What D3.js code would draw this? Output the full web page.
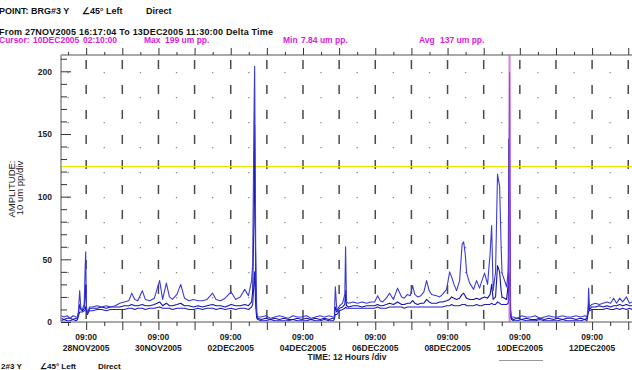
<!DOCTYPE html>
<html><head><meta charset="utf-8">
<script src="https://cdn.jsdelivr.net/npm/d3@7"></script>
<style>body{margin:0;background:#fff;} svg{display:block;font-family:"Liberation Sans",Arial,sans-serif;}</style>
</head><body><svg id="c" width="632" height="370"></svg>
<script>
// ---- data ----
const startTime = "2005-11-27T16:17:04";
const endTime = "2005-12-13T11:30:00";
const cursorTime = "2005-12-10T02:10:00";
const alarmLevel = 124;
const yMajorTicks = [0, 50, 100, 150, 200];
const xLabelTimes = ["2005-11-28T09:00:00","2005-11-30T09:00:00","2005-12-02T09:00:00","2005-12-04T09:00:00",
                     "2005-12-06T09:00:00","2005-12-08T09:00:00","2005-12-10T09:00:00","2005-12-12T09:00:00"];
const xLabelDates = ["28NOV2005","30NOV2005","02DEC2005","04DEC2005","06DEC2005","08DEC2005","10DEC2005","12DEC2005"];
const xLabelClock = "09:00";

// hours since start time
const hours = [
  0,2,4,6,8,10,11,
  11.6,12.4,13.2,14.2,15.4,16.0,16.4,16.9,17.6,19,
  21,24,27,30,33,36,39,42,45, 47,49,51,54,56,59,62, 65.5,67.5,70,72,74,77,79.5,82,85,
  88,91,94,97,100.7,103,106,109,113, 116,119,122,124.5,126.6, 127.3,128.1,128.6,129.3,130,130.6,
  133,136,139,142,145,148,151,154,157,160,163,166,169,172,175,178,180.5,
  181.5,182.2,183.2,185,187,188.5,189.0,189.6,191,194, 197,200,203,206,208.3,210.3,212,213.6,216,218.2,
  220.8,223.5,226.2,228,230.1,232,233.5,235,236.8,239, 241,242.8,244.5,246.1,249.4,
  251.5,253.4,256.1,258.1,259.4,261,262.7,264.7,266.4,267.4, 268.4,269.4,271.4,274,276,278,279.3,281.3,283.3,285,
  286,287,288.6,289.9,291.3,292.3,292.9,294.6,295.9,297.0, 297.4,297.9,298.6,299.2,
  300.5,303,306,309,312,315,318,321,324,327,330,333,336,339,342,345,348,349.3,
  350.0,350.4,351,352.5,355,357.5,360,362.5,365,367,369,371,373,375.6,377.5,379.2
];
const seriesA = [
  5,4,5,3,5,4,4,
  9,25,11,10,14,42,56,12,7,12,
  12,13,12,13,12,13,15,16,17, 23,18,17,25,18,17,19, 33,18,31,20,18,22,30,19,17,
  18,17,17,18,23,18,17,19,24, 18,20,26,21,33, 47,157,204,60,8,4,
  4,5,3,4,5,4,3,5,4,4,5,3,4,5,4,5,4,
  4,28,9,13,15,22,60,16,15,16, 15,16,15,16,16,21,17,16,19,23,
  18,27,20,19,22,21,29,22,20,21, 24,33,25,22,21,
  20,22,26,40,36,30,25,33,62,64, 55,39,31,26,33,27,32,39,30,55,
  77,25,40,118,108,60,39,33,28,40, 60,199,10,4,
  4,3,5,4,4,5,3,4,5,4,4,5,4,4,5,4,5,4,
  10,27,12,14,15,14,15,16,15,19,15,19,16,20,15,16
];
const seriesB = [
  3,2,3,3,2,3,3,
  7,14,10,9,11,22,30,9,6,11,
  11,11,12,11,12,12,12,13,13, 14,13,13,14,13,13,14, 16,13,15,13,13,14,15,13,13,
  12,13,12,13,14,13,13,12,14, 13,13,14,13,16, 25,80,157,30,5,3,
  2,3,2,3,2,3,2,2,3,2,3,2,3,2,3,2,3,
  3,12,8,11,12,14,25,13,12,13, 13,12,13,13,13,14,13,13,14,15,
  14,16,14,14,15,15,17,15,14,15, 15,18,16,15,15,
  16,16,17,18,20,19,18,19,22,23, 21,19,18,18,19,18,19,20,19,22,
  30,18,20,45,40,25,20,19,18,30, 146,100,5,3,
  2,3,2,3,2,2,3,2,3,2,3,2,3,3,2,3,2,3,
  8,15,10,12,12,13,12,13,12,13,13,14,13,14,13,13
];
const seriesC = [
  1,2,1,1,2,1,2,
  5,8,8,8,9,10,12,8,7,9,
  9,10,10,9,10,10,10,10,11, 11,10,11,11,10,11,11, 12,11,11,11,10,11,11,11,10,
  10,11,10,11,11,10,11,10,11, 10,11,11,10,12, 14,30,40,12,3,2,
  1,1,2,1,1,1,1,2,1,1,1,2,1,1,2,1,1,
  2,6,6,9,10,11,12,11,11,11, 11,11,11,11,11,12,11,11,11,12,
  12,12,12,11,12,12,12,12,12,12, 12,12,12,12,12,
  12,12,13,13,14,13,13,13,14,14, 14,13,13,13,14,13,13,14,14,14,
  15,14,14,16,15,14,14,14,14,15, 40,30,4,2,
  1,1,2,1,1,1,2,1,1,1,1,2,1,1,1,1,2,1,
  6,9,9,10,10,10,10,11,10,10,11,10,11,10,11,10
];
const seriesColors = ["#2020b8", "#1414a8", "#3c3cd4"]; // C, B, A

// ---- chart ----
const parse = d3.timeParse("%Y-%m-%dT%H:%M:%S");
const t0 = parse(startTime), t1 = parse(endTime), tc = parse(cursorTime);
const L = 61, R = 632, T = 55, B = 322;
const x = d3.scaleTime().domain([t0, t1]).range([L, R]);
const y = d3.scaleLinear().domain([0, 213]).range([B, T]);
const svg = d3.select("#c");
const toTime = h => new Date(t0.getTime() + h * 3600000);

const gridTimes = d3.timeHours(t0, t1).filter(d => d.getHours() === 9 || d.getHours() === 21);
const dayTimes = gridTimes.filter(d => d.getHours() === 9);
const halfTimes = gridTimes.filter(d => d.getHours() === 21);

// gridlines
svg.append("g").selectAll("line").data(halfTimes).join("line")
  .attr("x1", d => x(d)).attr("x2", d => x(d)).attr("y1", T).attr("y2", B)
  .attr("stroke", "#8a8a8a").attr("stroke-width", 1.3)
  .attr("stroke-dasharray", "1.3,23.7").attr("stroke-dashoffset", -17);
svg.append("g").selectAll("line").data(dayTimes).join("line")
  .attr("x1", d => x(d)).attr("x2", d => x(d)).attr("y1", T).attr("y2", B)
  .attr("stroke", "#4a4a4a").attr("stroke-width", 1.5)
  .attr("stroke-dasharray", "9,16").attr("stroke-dashoffset", 20);

// alarm line
svg.append("line").attr("x1", L).attr("x2", R).attr("y1", y(alarmLevel)).attr("y2", y(alarmLevel))
  .attr("stroke", "#e6e600").attr("stroke-width", 1.2);

// series
const line = d3.line().x((d, i) => x(toTime(hours[i]))).y(d => y(d));
[seriesC, seriesB, seriesA].forEach((s, k) => {
  svg.append("path").datum(s).attr("d", line).attr("fill", "none")
    .attr("stroke", seriesColors[k]).attr("stroke-width", 1.1).attr("stroke-linejoin", "round");
});

// cursor
svg.append("line").attr("x1", x(tc)).attr("x2", x(tc)).attr("y1", T).attr("y2", B)
  .attr("stroke", "#d040d8").attr("stroke-width", 2).attr("opacity", 0.7);

// frame
const frame = svg.append("g").attr("stroke", "#8c8c8c").attr("stroke-width", 1.5);
frame.append("line").attr("x1", L).attr("x2", R).attr("y1", T).attr("y2", T);
frame.append("line").attr("x1", L).attr("x2", R).attr("y1", B).attr("y2", B);
frame.append("line").attr("x1", L).attr("x2", L).attr("y1", T).attr("y2", B);

function styleAxis(g) {
  g.select(".domain").remove();
  g.selectAll(".tick line").attr("stroke", "#333").attr("stroke-width", 1);
}
// bottom ticks
svg.append("g").attr("transform", `translate(0,${B})`)
  .call(d3.axisBottom(x).tickValues(dayTimes).tickSize(8).tickFormat("")).call(styleAxis);
svg.append("g").attr("transform", `translate(0,${B})`)
  .call(d3.axisBottom(x).tickValues(halfTimes).tickSize(4).tickFormat("")).call(styleAxis);
// top ticks
svg.append("g").attr("transform", `translate(0,${T})`)
  .call(d3.axisTop(x).tickValues(dayTimes).tickSize(7).tickFormat("")).call(styleAxis);
svg.append("g").attr("transform", `translate(0,${T})`)
  .call(d3.axisTop(x).tickValues(halfTimes).tickSize(3).tickFormat("")).call(styleAxis);
// y ticks
const yMinor = d3.range(10, 213, 10).filter(v => !yMajorTicks.includes(v));
svg.append("g").attr("transform", `translate(${L},0)`)
  .call(d3.axisLeft(y).tickValues(yMinor).tickSize(-6).tickFormat("")).call(styleAxis);
const ya = svg.append("g").attr("transform", `translate(${L},0)`)
  .call(d3.axisLeft(y).tickValues(yMajorTicks).tickSize(-10).tickPadding(9).tickFormat(d3.format("d")))
  .call(styleAxis);
ya.selectAll("text").attr("font-family", "Liberation Sans").attr("font-weight", "bold")
  .attr("font-size", 8.5).attr("fill", "#222");

// x labels
const xl = svg.append("g").attr("font-weight", "bold").attr("font-size", 8.5).attr("fill", "#222")
  .attr("text-anchor", "middle");
xLabelTimes.forEach((s, i) => {
  const px = x(parse(s));
  xl.append("text").attr("x", px).attr("y", 339.5).text(xLabelClock);
  xl.append("text").attr("x", px).attr("y", 350.5).text(xLabelDates[i]);
});
svg.append("text").attr("x", 347).attr("y", 360).attr("text-anchor", "middle")
  .attr("font-weight", "bold").attr("font-size", 8.5).attr("fill", "#222").text("TIME: 12 Hours /div");
svg.append("line").attr("x1", 499).attr("x2", 543).attr("y1", 360.5).attr("y2", 360.5)
  .attr("stroke", "#999").attr("stroke-width", 1);

// y title
svg.append("text").attr("transform", "translate(14.5,189) rotate(-90)").attr("text-anchor", "middle")
  .attr("font-size", 9.5).attr("fill", "#222").text("AMPLITUDE:");
svg.append("text").attr("transform", "translate(22.5,188) rotate(-90)").attr("text-anchor", "middle")
  .attr("font-size", 9.5).attr("fill", "#222").text("10 um pp/div");

// header
const hdr = svg.append("g").attr("font-weight", "bold").attr("font-size", 9).attr("fill", "#111");
hdr.append("text").attr("x", -1).attr("y", 14).text("POINT: BRG#3 Y");
hdr.append("text").attr("x", 82).attr("y", 14).text("∠45° Left");
hdr.append("text").attr("x", 146).attr("y", 14).text("Direct");
hdr.append("text").attr("x", -1).attr("y", 34.5).attr("textLength", 274).attr("lengthAdjust", "spacing")
  .text("From 27NOV2005 16:17:04 To 13DEC2005 11:30:00 Delta Time");
const cur = svg.append("g").attr("font-weight", "bold").attr("font-size", 8.5).attr("fill", "#d81bd8");
cur.append("text").attr("x", -1).attr("y", 43).text("Cursor:");
cur.append("text").attr("x", 33).attr("y", 43).text("10DEC2005");
cur.append("text").attr("x", 83).attr("y", 43).text("02:10:00");
cur.append("text").attr("x", 144).attr("y", 43).text("Max");
cur.append("text").attr("x", 165).attr("y", 43).text("199 um pp.");
cur.append("text").attr("x", 283).attr("y", 43).text("Min");
cur.append("text").attr("x", 301).attr("y", 43).text("7.84 um pp.");
cur.append("text").attr("x", 419).attr("y", 43).text("Avg");
cur.append("text").attr("x", 440).attr("y", 43).text("137 um pp.");

// bottom footer line
const ftr = svg.append("g").attr("font-weight", "bold").attr("font-size", 8).attr("fill", "#111");
ftr.append("text").attr("x", 1).attr("y", 369).text("2#3 Y");
ftr.append("text").attr("x", 40).attr("y", 369).text("∠45° Left");
ftr.append("text").attr("x", 98).attr("y", 369).text("Direct");
</script></body></html>
